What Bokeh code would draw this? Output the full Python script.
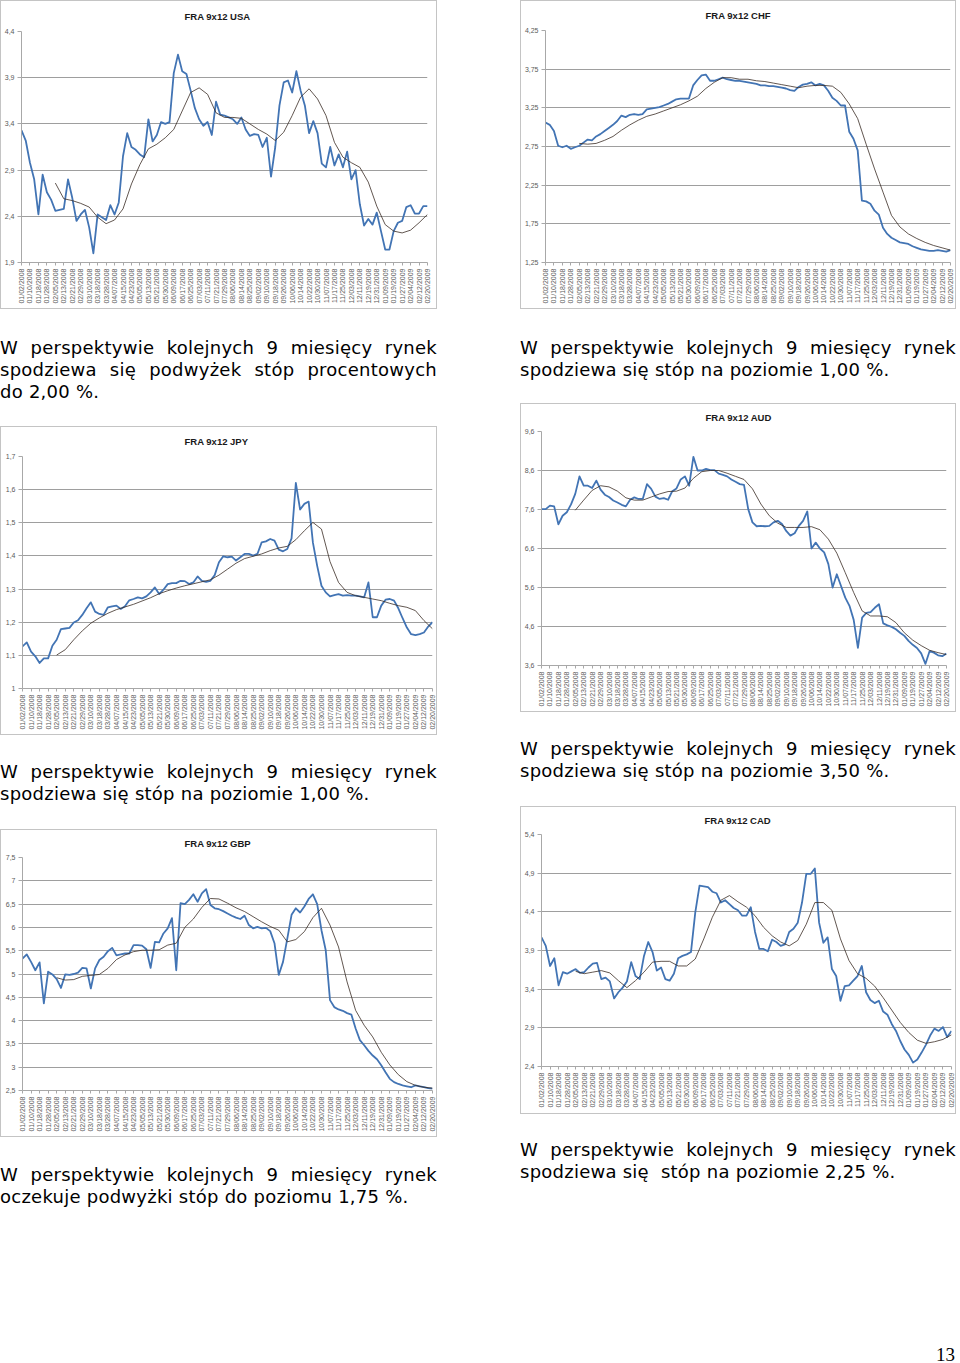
import numpy as np
from bokeh.plotting import figure
from bokeh.models import Range1d, FixedTicker, CustomJSTickFormatter, ColumnDataSource, Div, Spacer
from bokeh.layouts import column, row
from bokeh.embed import file_html
from bokeh.resources import INLINE

# x-axis category labels (every 6th trading day)
dates = ["01/02/2008", "01/10/2008", "01/18/2008", "01/28/2008", "02/05/2008", "02/13/2008",
         "02/21/2008", "02/29/2008", "03/10/2008", "03/18/2008", "03/28/2008", "04/07/2008",
         "04/15/2008", "04/23/2008", "05/05/2008", "05/13/2008", "05/21/2008", "05/30/2008",
         "06/09/2008", "06/17/2008", "06/25/2008", "07/03/2008", "07/11/2008", "07/21/2008",
         "07/29/2008", "08/06/2008", "08/14/2008", "08/25/2008", "09/02/2008", "09/10/2008",
         "09/18/2008", "09/26/2008", "10/06/2008", "10/14/2008", "10/22/2008", "10/30/2008",
         "11/07/2008", "11/17/2008", "11/25/2008", "12/03/2008", "12/11/2008", "12/19/2008",
         "12/31/2008", "01/09/2009", "01/19/2009", "01/27/2009", "02/04/2009", "02/12/2009",
         "02/20/2009"]

# FRA 9x12 quotes, read every 3rd trading day (97 values) and moving average every 6th (49 values)
usa_rate = [3.33, 3.22, 2.98, 2.80, 2.42, 2.85, 2.66, 2.58, 2.46, 2.47,
            2.48, 2.80, 2.60, 2.35, 2.42, 2.47, 2.28, 2.00, 2.42, 2.39,
            2.36, 2.52, 2.42, 2.55, 3.05, 3.30, 3.15, 3.12, 3.07, 3.04,
            3.45, 3.21, 3.28, 3.42, 3.40, 3.42, 3.95, 4.15, 3.97, 3.94,
            3.76, 3.57, 3.45, 3.38, 3.42, 3.28, 3.64, 3.50, 3.49, 3.47,
            3.45, 3.40, 3.47, 3.34, 3.27, 3.29, 3.28, 3.15, 3.25, 2.83,
            3.15, 3.60, 3.85, 3.87, 3.74, 3.97, 3.76, 3.60, 3.30, 3.43,
            3.30, 2.97, 2.93, 3.15, 2.95, 3.07, 2.93, 3.10, 2.80, 2.90,
            2.53, 2.30, 2.37, 2.31, 2.44, 2.24, 2.04, 2.04, 2.24, 2.33,
            2.35, 2.50, 2.52, 2.43, 2.43, 2.51, 2.51]
usa_avg = [None, None, None, None,
           2.76, 2.59, 2.57, 2.54, 2.50, 2.39, 2.32, 2.36, 2.48, 2.75, 2.96, 3.13, 3.18, 3.25, 3.34,
           3.54, 3.74, 3.79, 3.72, 3.52, 3.47, 3.47, 3.46, 3.40, 3.34, 3.29, 3.22, 3.31, 3.49, 3.69,
           3.78, 3.67, 3.49, 3.20, 3.04, 2.98, 2.93, 2.77, 2.51, 2.31, 2.24, 2.22, 2.25, 2.33, 2.42]
usa_yticks = [1.9, 2.4, 2.9, 3.4, 3.9, 4.4]

chf_rate = [3.06, 3.03, 2.95, 2.76, 2.74, 2.76, 2.72, 2.74, 2.76, 2.80,
            2.84, 2.83, 2.88, 2.91, 2.95, 2.99, 3.03, 3.08, 3.15, 3.13,
            3.16, 3.17, 3.16, 3.17, 3.23, 3.24, 3.25, 3.26, 3.28, 3.30,
            3.33, 3.36, 3.37, 3.37, 3.37, 3.54, 3.61, 3.67, 3.68, 3.60,
            3.60, 3.62, 3.64, 3.62, 3.61, 3.60, 3.60, 3.59, 3.58, 3.57,
            3.56, 3.54, 3.54, 3.53, 3.53, 3.52, 3.51, 3.50, 3.48, 3.47,
            3.52, 3.55, 3.56, 3.58, 3.54, 3.56, 3.54, 3.47, 3.38, 3.34,
            3.28, 3.28, 2.94, 2.85, 2.70, 2.05, 2.04, 2.01, 1.92, 1.87,
            1.70, 1.62, 1.57, 1.54, 1.51, 1.50, 1.49, 1.46, 1.44, 1.42,
            1.41, 1.40, 1.40, 1.41, 1.40, 1.39, 1.41]
chf_avg = [None, None, None, None,
           2.79, 2.78, 2.79, 2.83, 2.88, 2.96, 3.03, 3.09, 3.14, 3.17, 3.21, 3.25, 3.29, 3.34, 3.40,
           3.50, 3.58, 3.64, 3.64, 3.62, 3.62, 3.60, 3.59, 3.57, 3.55, 3.53, 3.51, 3.53, 3.54, 3.54,
           3.53, 3.45, 3.30, 3.11, 2.78, 2.46, 2.16, 1.86, 1.71, 1.62, 1.56, 1.51, 1.47, 1.44, 1.41]
chf_yticks = [1.25, 1.75, 2.25, 2.75, 3.25, 3.75, 4.25]

jpy_rate = [1.127, 1.139, 1.111, 1.097, 1.077, 1.091, 1.091, 1.129, 1.147, 1.179,
            1.181, 1.183, 1.199, 1.206, 1.222, 1.242, 1.260, 1.232, 1.225, 1.222,
            1.245, 1.248, 1.250, 1.240, 1.248, 1.266, 1.270, 1.275, 1.272, 1.278,
            1.290, 1.305, 1.285, 1.298, 1.315, 1.318, 1.318, 1.325, 1.324, 1.315,
            1.320, 1.338, 1.325, 1.322, 1.325, 1.342, 1.381, 1.399, 1.396, 1.398,
            1.386, 1.396, 1.406, 1.406, 1.401, 1.406, 1.441, 1.444, 1.451, 1.446,
            1.419, 1.414, 1.421, 1.453, 1.620, 1.540, 1.557, 1.564, 1.440, 1.370,
            1.310, 1.290, 1.278, 1.282, 1.285, 1.280, 1.282, 1.280, 1.280, 1.278,
            1.275, 1.320, 1.215, 1.215, 1.250, 1.268, 1.270, 1.265, 1.242, 1.212,
            1.184, 1.164, 1.161, 1.164, 1.169, 1.187, 1.200]
jpy_avg = [None, None, None, None,
           1.101, 1.117, 1.147, 1.174, 1.197, 1.213, 1.227, 1.238, 1.246, 1.254, 1.264, 1.274,
           1.286, 1.295, 1.303, 1.310, 1.316, 1.322, 1.328, 1.342, 1.360, 1.378, 1.392, 1.399,
           1.406, 1.416, 1.424, 1.429, 1.449, 1.476, 1.501, 1.481, 1.383, 1.320, 1.290, 1.280,
           1.275, 1.270, 1.265, 1.257, 1.250, 1.245, 1.235, 1.205, 1.180]
jpy_yticks = [1.0, 1.1, 1.2, 1.3, 1.4, 1.5, 1.6, 1.7]

aud_rate = [7.61, 7.61, 7.70, 7.68, 7.22, 7.44, 7.53, 7.73, 8.00, 8.45,
            8.21, 8.21, 8.15, 8.34, 8.11, 7.98, 7.92, 7.83, 7.78, 7.72,
            7.68, 7.85, 7.91, 7.87, 7.87, 8.25, 8.13, 7.93, 7.87, 7.89,
            7.85, 8.07, 8.14, 8.37, 8.45, 8.21, 8.95, 8.60, 8.60, 8.64,
            8.61, 8.61, 8.52, 8.49, 8.45, 8.37, 8.31, 8.25, 8.23, 7.61,
            7.27, 7.17, 7.18, 7.17, 7.18, 7.27, 7.31, 7.23, 7.05, 6.93,
            6.99, 7.18, 7.31, 7.55, 6.60, 6.75, 6.60, 6.50, 6.20, 5.60,
            5.94, 5.64, 5.34, 5.13, 4.77, 4.05, 4.83, 4.95, 4.97, 5.08,
            5.17, 4.68, 4.63, 4.59, 4.53, 4.44, 4.36, 4.23, 4.13, 4.05,
            3.91, 3.64, 3.97, 3.93, 3.86, 3.84, 3.91]
aud_avg = [None, None, None, None,
           7.58, 7.84, 8.09, 8.21, 8.18, 8.07, 7.90, 7.84, 7.84, 7.92, 8.00, 8.06, 8.07, 8.15, 8.40,
           8.57, 8.60, 8.60, 8.53, 8.45, 8.37, 8.13, 7.74, 7.44, 7.25, 7.14, 7.14, 7.14, 7.16, 7.08,
           6.84, 6.48, 5.98, 5.47, 5.00, 4.87, 4.87, 4.85, 4.70, 4.44, 4.25, 4.11, 3.99, 3.93, 3.88]
aud_yticks = [3.6, 4.6, 5.6, 6.6, 7.6, 8.6, 9.6]

gbp_rate = [5.33, 5.42, 5.26, 5.08, 5.25, 4.37, 5.05, 4.99, 4.89, 4.70,
            4.99, 4.98, 5.00, 5.03, 5.13, 5.12, 4.69, 5.12, 5.30, 5.37,
            5.49, 5.56, 5.40, 5.42, 5.44, 5.44, 5.62, 5.62, 5.61, 5.53,
            5.13, 5.69, 5.68, 5.87, 5.98, 6.20, 5.08, 6.52, 6.50, 6.59,
            6.71, 6.55, 6.73, 6.82, 6.48, 6.41, 6.39, 6.35, 6.30, 6.25,
            6.21, 6.18, 6.25, 6.05, 5.98, 6.01, 5.98, 5.99, 5.92, 5.66,
            4.98, 5.26, 5.76, 6.27, 6.41, 6.32, 6.45, 6.61, 6.71, 6.50,
            5.94, 5.51, 4.44, 4.29, 4.24, 4.21, 4.16, 4.13, 3.83, 3.58,
            3.47, 3.35, 3.25, 3.17, 3.04, 2.89, 2.75, 2.68, 2.64, 2.61,
            2.59, 2.57, 2.61, 2.59, 2.57, 2.55, 2.54]
gbp_avg = [None, None, None, None,
           4.92, 4.87, 4.88, 4.95, 4.97, 4.99, 5.12, 5.31, 5.41, 5.48, 5.51, 5.51, 5.52, 5.62, 5.66,
           6.00, 6.18, 6.43, 6.62, 6.61, 6.52, 6.42, 6.34, 6.23, 6.12, 6.02, 5.94, 5.69, 5.74, 5.91,
           6.21, 6.41, 6.05, 5.58, 4.83, 4.22, 3.90, 3.65, 3.32, 3.05, 2.84, 2.69, 2.61, 2.57, 2.55]
gbp_yticks = [2.5, 3.0, 3.5, 4.0, 4.5, 5.0, 5.5, 6.0, 6.5, 7.0, 7.5]

cad_rate = [4.07, 3.96, 3.70, 3.80, 3.45, 3.62, 3.60, 3.63, 3.66, 3.61,
            3.62, 3.68, 3.73, 3.74, 3.53, 3.55, 3.50, 3.28, 3.36, 3.42,
            3.50, 3.75, 3.57, 3.53, 3.83, 4.01, 3.88, 3.64, 3.68, 3.53,
            3.51, 3.60, 3.80, 3.83, 3.85, 3.88, 4.39, 4.74, 4.73, 4.72,
            4.66, 4.64, 4.52, 4.55, 4.50, 4.45, 4.42, 4.35, 4.35, 4.46,
            4.14, 3.92, 3.92, 3.89, 4.04, 4.01, 3.96, 3.98, 4.14, 4.18,
            4.26, 4.52, 4.89, 4.89, 4.96, 4.26, 4.00, 4.07, 3.66, 3.57,
            3.25, 3.44, 3.45, 3.51, 3.57, 3.70, 3.36, 3.26, 3.22, 3.25,
            3.11, 3.07, 2.95, 2.86, 2.73, 2.62, 2.55, 2.45, 2.49, 2.58,
            2.68, 2.80, 2.89, 2.86, 2.91, 2.78, 2.86]
cad_avg = [None, None, None, None,
           3.63, 3.60, 3.62, 3.64, 3.61, 3.51, 3.42, 3.51, 3.62, 3.75, 3.76, 3.76, 3.70, 3.70, 3.79,
           4.05, 4.33, 4.55, 4.61, 4.53, 4.46, 4.35, 4.20, 4.09, 4.01, 3.96, 4.03, 4.24, 4.52, 4.52,
           4.42, 4.05, 3.77, 3.60, 3.54, 3.44, 3.29, 3.13, 2.97, 2.84, 2.74, 2.70, 2.72, 2.75, 2.81]
cad_yticks = [2.4, 2.9, 3.4, 3.9, 4.4, 4.9, 5.4]

texts = {
    "usa": ["W perspektywie kolejnych 9 miesięcy rynek",
            "spodziewa się podwyżek stóp procentowych", "do 2,00 %."],
    "chf": ["W perspektywie kolejnych 9 miesięcy rynek",
            "spodziewa się stóp na poziomie 1,00 %."],
    "jpy": ["W perspektywie kolejnych 9 miesięcy rynek",
            "spodziewa się stóp na poziomie 1,00 %."],
    "aud": ["W perspektywie kolejnych 9 miesięcy rynek",
            "spodziewa się stóp na poziomie 3,50 %."],
    "gbp": ["W perspektywie kolejnych 9 miesięcy rynek",
            "oczekuje podwyżki stóp do poziomu 1,75 %."],
    "cad": ["W perspektywie kolejnych 9 miesięcy rynek",
            "spodziewa się\u00a0 stóp na poziomie 2,25 %."],
}

BLUE = "#4274b4"
AVG = "#3a2c24"
GRID = "#9e9e9e"
AXIS = "#a8a8a8"
LABEL = "#5a5a5a"
SANS = "Liberation Sans"


def chart(title, rate, avg, yticks, W, H, L, R, T, B, standoff):
    lo, hi = yticks[0], yticks[-1]
    p = figure(width=W - 2, height=H - 2, x_range=Range1d(0, 48), y_range=Range1d(lo, hi),
               output_backend="svg", toolbar_location=None,
               min_border_left=L - 1, min_border_right=(W - 1) - R,
               min_border_top=T - 1, min_border_bottom=(H - 1) - B,
               background_fill_color="white", border_fill_color="white",
               outline_line_color=None)
    p.title.text = title
    p.title.align = "left"
    p.title.offset = 184 - L
    p.title.vertical_align = "top"
    p.title.standoff = standoff
    p.title.text_font = SANS
    p.title.text_font_size = "9.5px"
    p.title.text_font_style = "bold"
    p.title.text_color = "#1a1a1a"

    p.yaxis.ticker = FixedTicker(ticks=yticks, minor_ticks=[])
    p.yaxis.formatter = CustomJSTickFormatter(
        code="return (Math.round(tick*100)/100).toString().replace('.', ',');")
    p.xaxis.ticker = FixedTicker(ticks=list(range(len(dates))), minor_ticks=[])
    p.xaxis.major_label_overrides = {i: d for i, d in enumerate(dates)}
    p.xaxis.major_label_orientation = np.pi / 2

    for ax in (p.xaxis[0], p.yaxis[0]):
        ax.axis_line_color = AXIS
        ax.major_tick_line_color = AXIS
        ax.minor_tick_line_color = None
        ax.major_tick_in = 0
        ax.major_label_text_font = SANS
        ax.major_label_text_font_size = "7px"
        ax.major_label_text_color = LABEL
        ax.major_label_standoff = 3
    p.yaxis.major_tick_out = 4
    p.xaxis.major_tick_out = 3

    p.xgrid.grid_line_color = None
    p.ygrid.grid_line_color = GRID
    p.ygrid.grid_line_width = 1

    s1 = ColumnDataSource(dict(x=np.arange(len(rate)) / 2.0, y=np.array(rate, dtype=float)))
    s2 = ColumnDataSource(dict(x=np.arange(len(avg)) * 1.0, y=np.array(avg, dtype=float)))
    p.line("x", "y", source=s1, line_color=BLUE, line_width=1.8, line_join="round")
    p.line("x", "y", source=s2, line_color=AVG, line_width=0.8, line_join="round")
    return column(p, styles={"border": "1px solid #c4c4c4"})


def para(lines, w, h):
    parts = []
    for i, ln in enumerate(lines):
        al = "left" if i == len(lines) - 1 else "justify"
        parts.append(f'<div style="text-align:{al};text-align-last:{al};">{ln}</div>')
    html = ('<div style="font-family:\'DejaVu Sans\';font-size:18px;line-height:22px;'
            f'letter-spacing:0.25px;color:#000;width:{w}px;">' + "".join(parts) + "</div>")
    return Div(text=html, width=w, height=h, margin=0)


usa = chart("FRA 9x12 USA", usa_rate, usa_avg, usa_yticks, 437, 309, 21, 427, 31, 262, 16)
chf = chart("FRA 9x12 CHF", chf_rate, chf_avg, chf_yticks, 436, 309, 24, 430, 30, 262, 15)
jpy = chart("FRA 9x12 JPY", jpy_rate, jpy_avg, jpy_yticks, 437, 309, 22, 432, 30, 262, 15)
aud = chart("FRA 9x12 AUD", aud_rate, aud_avg, aud_yticks, 436, 309, 20, 426, 28, 262, 13)
gbp = chart("FRA 9x12 GBP", gbp_rate, gbp_avg, gbp_yticks, 437, 308, 22, 432, 28, 261, 13)
cad = chart("FRA 9x12 CAD", cad_rate, cad_avg, cad_yticks, 436, 308, 21, 431, 28, 260, 13)

left = column(
    usa, Spacer(height=28), para(texts["usa"], 437, 66), Spacer(height=23),
    jpy, Spacer(height=26), para(texts["jpy"], 437, 44), Spacer(height=24),
    gbp, Spacer(height=27), para(texts["gbp"], 437, 44),
    spacing=0)

page_no = Div(text='<div style="font-family:\'Liberation Serif\';font-size:19px;line-height:20px;'
                   'text-align:right;width:435px;color:#000;">13</div>', width=436, height=18, margin=0)

right = column(
    chf, Spacer(height=28), para(texts["chf"], 436, 44), Spacer(height=22),
    aud, Spacer(height=26), para(texts["aud"], 436, 44), Spacer(height=24),
    cad, Spacer(height=25), para(texts["cad"], 436, 44), Spacer(height=162),
    page_no,
    spacing=0)

p = row(left, Spacer(width=83), right, spacing=0)

open("out.html", "w").write(file_html(p, INLINE))
